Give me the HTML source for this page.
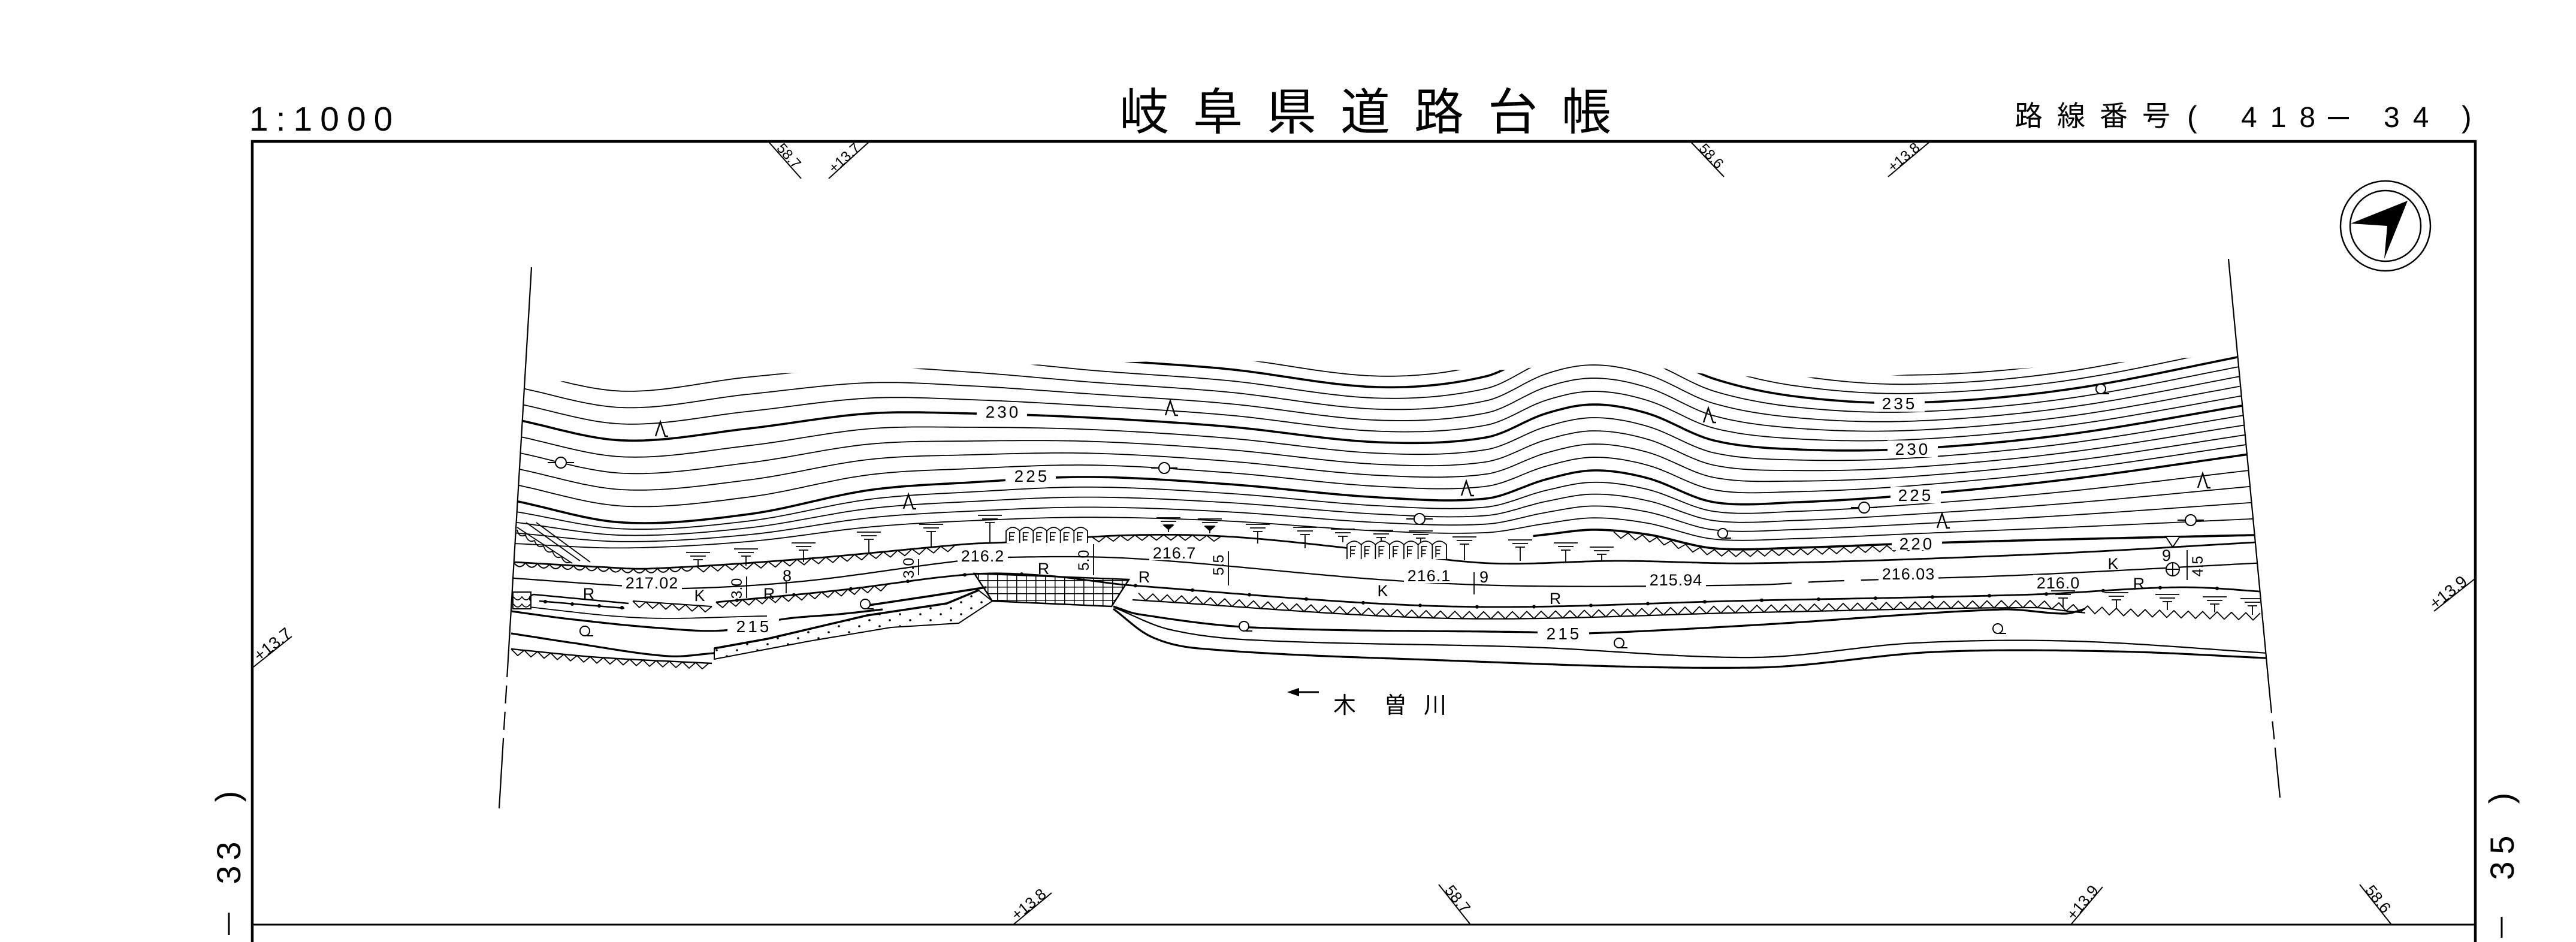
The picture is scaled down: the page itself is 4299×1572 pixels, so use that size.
<!DOCTYPE html>
<html><head><meta charset="utf-8"><title>岐阜県道路台帳</title>
<style>
html,body{margin:0;padding:0;background:#fff;width:4299px;height:1572px;overflow:hidden}
svg{display:block}
text{font-family:"Liberation Sans","Noto Sans CJK JP",sans-serif;fill:#000}
</style></head><body>
<svg id="S" xmlns="http://www.w3.org/2000/svg" width="4299" height="1572" viewBox="0 0 4299 1572">
<defs>
<clipPath id="mapclip"><polygon points="887,446 833,1349 3805,1331 3719,432"/></clipPath>
<clipPath id="cclip"><path id="cclipPath" d="M0 0"/></clipPath>
<pattern id="grid" width="16" height="11" patternUnits="userSpaceOnUse"><path d="M0 0.5H16M0.5 0V11" stroke="#000" stroke-width="2" fill="none"/></pattern>
<pattern id="dots" width="34" height="20" patternUnits="userSpaceOnUse"><circle cx="6" cy="5" r="1.8" fill="#000"/><circle cx="23" cy="15" r="1.8" fill="#000"/></pattern>
</defs>
<rect width="4299" height="1572" fill="#fff"/>

<!-- header -->
<text x="416" y="218" font-size="57" fill="#444" style="letter-spacing:13px">1:1000</text>
<text x="1868" y="216" font-size="83" style="letter-spacing:40px">岐阜県道路台帳</text>
<text x="3362" y="210" font-size="47" style="letter-spacing:24px">路線番号</text>
<text x="3650" y="212" font-size="50">(</text>
<text x="3740" y="212" font-size="48" style="letter-spacing:22px">418</text>
<line x1="3885" y1="197" x2="3920" y2="197" stroke="#000" stroke-width="4"/>
<text x="3978" y="212" font-size="48" style="letter-spacing:22px">34</text>
<text x="4108" y="212" font-size="50">)</text>

<!-- frame -->
<path d="M421 1572V236H4131V1572" fill="none" stroke="#000" stroke-width="4.5"/>
<path d="M421 1543H4131" fill="none" stroke="#000" stroke-width="3"/>

<!-- station ticks -->
<path d="M1283 237L1337 298M1450 237L1383 298M2822 237L2877 295M3220 237L3151 295M1691 1543L1755 1490M2401 1476L2454 1543M3456 1543L3509 1480M3938 1476L3991 1543M423 1113L487 1062M4130 966L4062 1020" fill="none" stroke="#000" stroke-width="2"/>
<text transform="translate(1295,248) rotate(48.5)" font-size="24">58.7</text>
<text transform="translate(1392,290) rotate(-42.3)" font-size="24">+13.7</text>
<text transform="translate(2834,249) rotate(46.5)" font-size="24">58.6</text>
<text transform="translate(3159,288) rotate(-40)" font-size="24">+13.8</text>
<text transform="translate(1697,1537) rotate(-39.6)" font-size="26">+13.8</text>
<text transform="translate(2410,1486) rotate(51.6)" font-size="26">58.7</text>
<text transform="translate(3461,1537) rotate(-50)" font-size="26">+13.9</text>
<text transform="translate(3946,1486) rotate(51.6)" font-size="26">58.6</text>
<text transform="translate(433,1105) rotate(-38.6)" font-size="28">+13.7</text>
<text transform="translate(4064,1018) rotate(-38.5)" font-size="28">+13.9</text>

<!-- side numbers -->
<g font-size="56" text-anchor="middle">
<text transform="translate(381,1329) rotate(-90)" dy="18">)</text>
<text transform="translate(381,1420) rotate(-90)" dy="20">3</text>
<text transform="translate(381,1460) rotate(-90)" dy="20">3</text>
<text transform="translate(4175,1332) rotate(-90)" dy="18">)</text>
<text transform="translate(4175,1410) rotate(-90)" dy="20">5</text>
<text transform="translate(4175,1453) rotate(-90)" dy="20">3</text>
</g>
<path d="M382 1523V1560M4175 1530V1565" stroke="#000" stroke-width="3"/>

<!-- compass -->
<circle cx="3981" cy="377" r="75" fill="none" stroke="#000" stroke-width="2.5"/>
<circle cx="3981" cy="377" r="59" fill="none" stroke="#000" stroke-width="2.5"/>
<polygon points="3923,373 4018,335 3979,432 3984,377" fill="#000"/>

<!-- map boundary lines -->
<g fill="none" stroke="#000" stroke-width="2.2">
<path d="M887 446L848 1100"/><path d="M848 1100L839 1250" stroke-dasharray="30 14"/><path d="M839 1250L833 1349"/>
<path d="M3719 432L3788 1160"/><path d="M3788 1160L3797 1250" stroke-dasharray="30 14"/><path d="M3797 1250L3805 1331"/>
</g>

<g clip-path="url(#mapclip)"><g id="cont" clip-path="url(#cclip)" fill="none" stroke="#000" stroke-linecap="round"></g></g>
<g clip-path="url(#mapclip)"><g id="road" fill="none" stroke="#000" stroke-linejoin="round"></g></g>

<!-- bridge grid / embankment -->
<polygon points="1626,957 1884,967 1855,1012 1656,1003" fill="url(#grid)" stroke="#000" stroke-width="2.5"/>
<polygon points="1192,1082 1281,1066 1447,1027 1580,1007 1633,985 1656,1003 1600,1040 1487,1047 1350,1070 1192,1100" fill="url(#dots)" stroke="#000" stroke-width="2"/>
<path d="M1192 1082L1281 1066L1447 1027L1580 1007L1633 985M1450 1010L1550 995L1646 980" fill="none" stroke="#000" stroke-width="3.5"/>
<!-- left box & hatch -->
<rect x="856" y="988" width="30" height="28" fill="#fff" stroke="#000" stroke-width="2"/>
<path d="M857 996Q864 1006 871 996Q878 1006 885 996M857 1008Q864 1018 871 1008Q878 1018 885 1008" fill="none" stroke="#000" stroke-width="1.6"/>
<path d="M863 880L955 940M878 872L968 936M895 872L985 938" fill="none" stroke="#000" stroke-width="1.8"/>
<path d="M863 884Q866 898 877 893Q882 907 892 902Q897 916 907 911Q912 925 922 920Q927 934 937 929Q942 942 952 938" fill="none" stroke="#000" stroke-width="1.8"/>
<path d="M890 992L1049 1007M900 1003L1042 1015M890 992Q880 996 886 1003" fill="none" stroke="#000" stroke-width="2.5"/>
<g fill="#000"><circle cx="910" cy="1004" r="3"/><circle cx="955" cy="1008" r="3"/><circle cx="1000" cy="1011" r="3"/><circle cx="1038" cy="1014" r="3"/></g>

<g id="sym" fill="none" stroke="#000"></g>

<!-- contour labels -->
<g fill="#fff">
<rect x="1630" y="673" width="84" height="28"/><rect x="1678" y="780" width="84" height="28"/>
<rect x="3128" y="659" width="84" height="28"/><rect x="3150" y="735" width="84" height="28"/>
<rect x="3155" y="812" width="84" height="28"/><rect x="3157" y="894" width="84" height="24"/>
<rect x="1214" y="1031" width="86" height="28"/><rect x="2566" y="1043" width="86" height="28"/>
<rect x="1038" y="959" width="100" height="26"/><rect x="1598" y="914" width="84" height="26"/>
<rect x="1918" y="909" width="84" height="26"/><rect x="2343" y="947" width="84" height="26"/>
<rect x="2747" y="954" width="100" height="26"/><rect x="3135" y="944" width="100" height="26"/>
<rect x="3393" y="959" width="84" height="26"/>
</g>
<g font-size="28" text-anchor="middle" style="letter-spacing:4px">
<text x="1674" y="697">230</text><text x="1722" y="804">225</text>
<text x="3170" y="683">235</text><text x="3192" y="759">230</text>
<text x="3197" y="836">225</text><text x="3199" y="917">220</text>
<text x="1258" y="1055">215</text><text x="2610" y="1067">215</text>
</g>
<g font-size="27" text-anchor="middle" style="letter-spacing:1px">
<text x="1088" y="982">217.02</text><text x="1640" y="937">216.2</text>
<text x="1960" y="932">216.7</text><text x="2385" y="970">216.1</text>
<text x="2797" y="977">215.94</text><text x="3185" y="967">216.03</text>
<text x="3435" y="982">216.0</text>
<text x="1168" y="1003">K</text><text x="2308" y="995">K</text><text x="3527" y="950">K</text>
<text x="983" y="1000">R</text><text x="1284" y="1000">R</text><text x="1742" y="958">R</text>
<text x="1910" y="972">R</text><text x="2596" y="1008">R</text><text x="3570" y="983">R</text>
<text x="1314" y="970">8</text><text x="2477" y="972">9</text><text x="3616" y="936">9</text>
</g>
<!-- width annotations -->
<path d="M1246 962V998M1533 933V960M1825 908V960M2050 920V977M3650 918V968M1312 970V990M2460 955V992" fill="none" stroke="#000" stroke-width="1.8"/>
<g font-size="25" text-anchor="middle">
<text transform="translate(1229,982) rotate(-90)" dy="9">3.0</text>
<text transform="translate(1516,948) rotate(-90)" dy="9">3.0</text>
<text transform="translate(1808,935) rotate(-90)" dy="9">5.0</text>
<text transform="translate(2033,943) rotate(-90)" dy="9">5.5</text>
<text transform="translate(3667,945) rotate(-90)" dy="9">4.5</text>
</g>
<circle cx="3626" cy="950" r="11" fill="#fff" stroke="#000" stroke-width="2"/>
<path d="M3615 950H3637M3626 939V961" stroke="#000" stroke-width="2"/>
<polygon points="3614,895 3638,895 3626,913" fill="#fff" stroke="#000" stroke-width="2"/>

<!-- river label -->
<path d="M2201 1155H2162" stroke="#000" stroke-width="3"/>
<polygon points="2148,1155 2168,1148 2168,1162" fill="#000"/>
<g font-size="38" text-anchor="middle">
<text x="2244" y="1190">木</text><text x="2329" y="1190">曽</text><text x="2395" y="1190">川</text>
</g>
</svg>
<script>
(function(){
var NS='http://www.w3.org/2000/svg';
function el(tag,a,p){var e=document.createElementNS(NS,tag);for(var k in a)e.setAttribute(k,a[k]);p.appendChild(e);return e;}
function H(xs,ys,x){var n=xs.length;
 if(x<=xs[0]){var m=(ys[1]-ys[0])/(xs[1]-xs[0]);return ys[0]+m*(x-xs[0]);}
 if(x>=xs[n-1]){var m2=(ys[n-1]-ys[n-2])/(xs[n-1]-xs[n-2]);return ys[n-1]+m2*(x-xs[n-1]);}
 var i=0;while(xs[i+1]<x)i++;
 var h=xs[i+1]-xs[i],t=(x-xs[i])/h;
 var m0=i>0?(ys[i+1]-ys[i-1])/(xs[i+1]-xs[i-1]):(ys[i+1]-ys[i])/h;
 var m1=i<n-2?(ys[i+2]-ys[i])/(xs[i+2]-xs[i]):(ys[i+1]-ys[i])/h;
 var t2=t*t,t3=t2*t;
 return (2*t3-3*t2+1)*ys[i]+(t3-2*t2+t)*h*m0+(-2*t3+3*t2)*ys[i+1]+(t3-t2)*h*m1;}
function F(P){var xs=P.map(function(p){return p[0];}),ys=P.map(function(p){return p[1];});return function(x){return H(xs,ys,x);};}
function S(f,x0,x1,st){var a=[];for(var x=x0;x<x1;x+=st)a.push([x,f(x)]);a.push([x1,f(x1)]);return a;}
function D(a){return 'M'+a.map(function(p){return p[0].toFixed(1)+' '+p[1].toFixed(1);}).join('L');}
var cont=document.getElementById('cont'),road=document.getElementById('road'),sym=document.getElementById('sym');
var XS=[860,1040,1250,1450,1620,1820,2050,2300,2480,2580,2660,2750,2860,3000,3190,3450,3760];
var Y30=[700,735,715,690,690,697,712,738,730,690,675,690,735,750,749,725,674];
var Y25=[836,872,858,818,805,796,808,830,832,800,785,798,838,838,826,800,757];
var Y20=[925,925,915,895,885,880,885,900,903,892,884,892,915,914,907,900,893];
var YT=[640,632,625,618,612,606,602,612,618,612,608,612,625,630,625,610,590];
function f30(x){return H(XS,Y30,x);} function f25(x){return H(XS,Y25,x);}
function f20(x){return H(XS,Y20,x);} function fT(x){return H(XS,YT,x);}
var T=F([[820,936],[857,938],[1000,946],[1082,949],[1350,932],[1613,908],[1680,905],[1890,893],[2059,896],[2300,920],[2487,940],[2700,936],[2930,940],[3400,925],[3800,903]]);
var top=S(fT,800,3850,10),bot=S(function(x){return T(x)-5;},800,3850,10).reverse();
document.getElementById('cclipPath').setAttribute('d',D(top.concat(bot))+'Z');
function lev(L,x){var a=f30(x),b=f25(x);if(L>=225)return b+(a-b)*(L-225)/5;var c=f20(x);return c+(b-c)*(L-220)/5;}
for(var L=221;L<=240;L++){(function(L){var bold=L%5===0;el('path',{d:D(S(function(x){return lev(L,x);},820,3820,8)),'stroke-width':bold?3.6:1.8},cont);})(L);}
el('path',{d:D(S(f20,2560,3820,8)),'stroke-width':3.6},cont);

function P(f,x0,x1,w,extra){var e=el('path',{d:D(S(f,x0,x1,6)),'stroke-width':w},road);if(extra)for(var k in extra)e.setAttribute(k,extra[k]);return e;}
function zig(f,x0,x1,per,dep,w){var d='';for(var x=x0;x+per<=x1+0.01;x+=per){var xm=x+per/2;d+=(d?'L':'M')+x.toFixed(1)+' '+f(x).toFixed(1)+'L'+xm.toFixed(1)+' '+(f(xm)+dep).toFixed(1)+'L'+(x+per).toFixed(1)+' '+f(x+per).toFixed(1);}el('path',{d:d,'stroke-width':w},road);}
function scal(f,x0,x1,per,dep,w){var d='M'+x0+' '+f(x0).toFixed(1);for(var x=x0;x+per<=x1+0.01;x+=per){d+='Q'+(x+per/2).toFixed(1)+' '+(f(x+per/2)+2*dep).toFixed(1)+' '+(x+per).toFixed(1)+' '+f(x+per).toFixed(1);}el('path',{d:d,'stroke-width':w},road);}

P(T,840,3800,2.8);
scal(T,857,1162,20,7,2);
zig(T,1162,1613,24,10,1.8);
zig(T,1822,2059,24,9,1.8);
zig(function(x){return f20(x)+2;},2693,3242,24,10,1.8);
var C=F([[845,964],[1030,977],[1140,982],[1340,970],[1593,937],[1680,930],[1890,932],[2314,968],[2553,978],[2930,976],[3049,970],[3368,960],[3800,938]]);
P(C,840,2930,2.2);
P(C,2930,3200,2.2,{'stroke-dasharray':'60 28'});
P(C,3200,3800,2.2);
var B=F([[1195,1005],[1400,985],[1626,958],[1750,961],[1890,977],[2421,1012],[2930,1002],[3394,992],[3640,980],[3800,989]]);
P(B,1195,3800,2.8);
zig(B,1195,1487,22,10,1.8);
for(var x=1230;x<3780;x+=95){el('circle',{cx:x,cy:B(x).toFixed(1),r:3,fill:'#000',stroke:'none'},road);}
var Zt=F([[1890,989],[2421,1020],[2930,1010],[3394,1002],[3461,1009],[3550,1016],[3800,1024]]);
zig(Zt,1900,3790,24,12,1.8);
P(function(x){return Zt(x)+12;},1890,3480,2.2);
var ZL=F([[1056,1003],[1188,1012]]);
zig(ZL,1056,1188,22,10,1.8);
P(ZL,1056,1188,2);
P(F([[853,1020],[950,1033],[1100,1048],[1208,1052],[1308,1033],[1400,1025],[1473,1017]]),853,1473,3.2);
P(F([[855,1010],[1069,1031],[1280,1028]]),855,1280,1.8);
P(F([[853,1057],[950,1072],[1115,1095],[1192,1090]]),853,1192,3.2);
var BZ=F([[853,1083],[1000,1097],[1188,1107]]);
P(BZ,853,1188,2.4);zig(BZ,853,1188,22,10,1.8);
P(F([[1858,1012],[1900,1025],[2089,1047],[2553,1055],[2646,1057],[2930,1043],[3341,1017],[3447,1024],[3480,1016]]),1858,3480,3.2);
P(F([[1860,1014],[1950,1050],[2089,1068],[2553,1080],[2930,1097],[3195,1073],[3461,1070],[3800,1091]]),1860,3800,2.2);
P(F([[1858,1016],[1920,1062],[2000,1082],[2354,1100],[2930,1114],[3228,1088],[3527,1087],[3800,1099]]),1858,3800,3.2);

function tsym(x,yb,ys,filled){el('path',{d:'M'+(x-20)+' '+(yb-12)+'H'+(x+20)+'M'+(x-13)+' '+(yb-6)+'H'+(x+13)+'M'+(x-8)+' '+yb+'H'+(x+8)+'M'+x+' '+yb+'V'+ys,'stroke-width':1.8},road);if(filled)el('path',{d:'M'+(x-9)+' '+yb+'H'+(x+9)+'L'+x+' '+(yb+8)+'Z',fill:'#000'},road);}
[[1165,934,948],[1245,928,944],[1341,918,938],[1450,900,925],[1554,887,912],[1652,872,906]].forEach(function(a){tsym(a[0],a[1],a[2]);});
[[1950,876,888,1],[2019,878,890,1],[2099,887,907],[2178,892,915],[2241,895,905],[2305,897,905],[2371,898,905],[2444,908,935],[2537,913,936],[2613,918,938],[2673,925,936]].forEach(function(a){tsym(a[0],a[1],a[2],a[3]);});
[[3443,998,1013],[3532,1001,1015],[3617,1004,1018],[3696,1008,1022],[3759,1011,1026]].forEach(function(a){tsym(a[0],a[1],a[2]);});
function fence(x0,x1,yt,yb,n){var w=(x1-x0)/n,d='';for(var i=0;i<n;i++){var a=x0+i*w,b=a+w,ex=a+6;d+='M'+a.toFixed(1)+' '+yb+'V'+(yt+6)+'Q'+(a+w/2).toFixed(1)+' '+(yt-6)+' '+b.toFixed(1)+' '+(yt+6)+'V'+yb;d+='M'+ex.toFixed(1)+' '+(yt+8)+'V'+(yb-3)+'M'+ex.toFixed(1)+' '+(yt+9)+'H'+(ex+9).toFixed(1)+'M'+ex.toFixed(1)+' '+(yt+15)+'H'+(ex+7).toFixed(1)+'M'+ex.toFixed(1)+' '+(yt+21)+'H'+(ex+7).toFixed(1);}el('path',{d:d,'stroke-width':1.8,fill:'#fff'},road);}
fence(1679,1815,880,906,6);fence(2248,2414,903,933,7);

[[1102,716],[1516,837],[1953,681],[2447,815],[2851,693],[3676,802],[3241,869]].forEach(function(p){var x=p[0],y=p[1];el('path',{d:'M'+(x-8)+' '+(y+12)+'L'+x+' '+(y-12)+'L'+(x+8)+' '+(y+12)+'H'+(x+13),'stroke-width':2.4},sym);});
[[936,772],[1943,781],[2369,866],[3111,847],[3656,868]].forEach(function(p){var x=p[0],y=p[1];el('path',{d:'M'+(x-22)+' '+y+'H'+(x+22),'stroke-width':2},sym);el('circle',{cx:x,cy:y,r:9,fill:'#fff','stroke-width':2},sym);});
[[3506,649],[2875,890],[3334,1049],[976,1053],[1444,1008],[2076,1045],[2702,1073]].forEach(function(p){var x=p[0],y=p[1];el('circle',{cx:x,cy:y,r:8,fill:'#fff','stroke-width':2},sym);el('path',{d:'M'+(x+3)+' '+(y+8)+'H'+(x+14),'stroke-width':2},sym);});
})();
</script>
</body></html>
